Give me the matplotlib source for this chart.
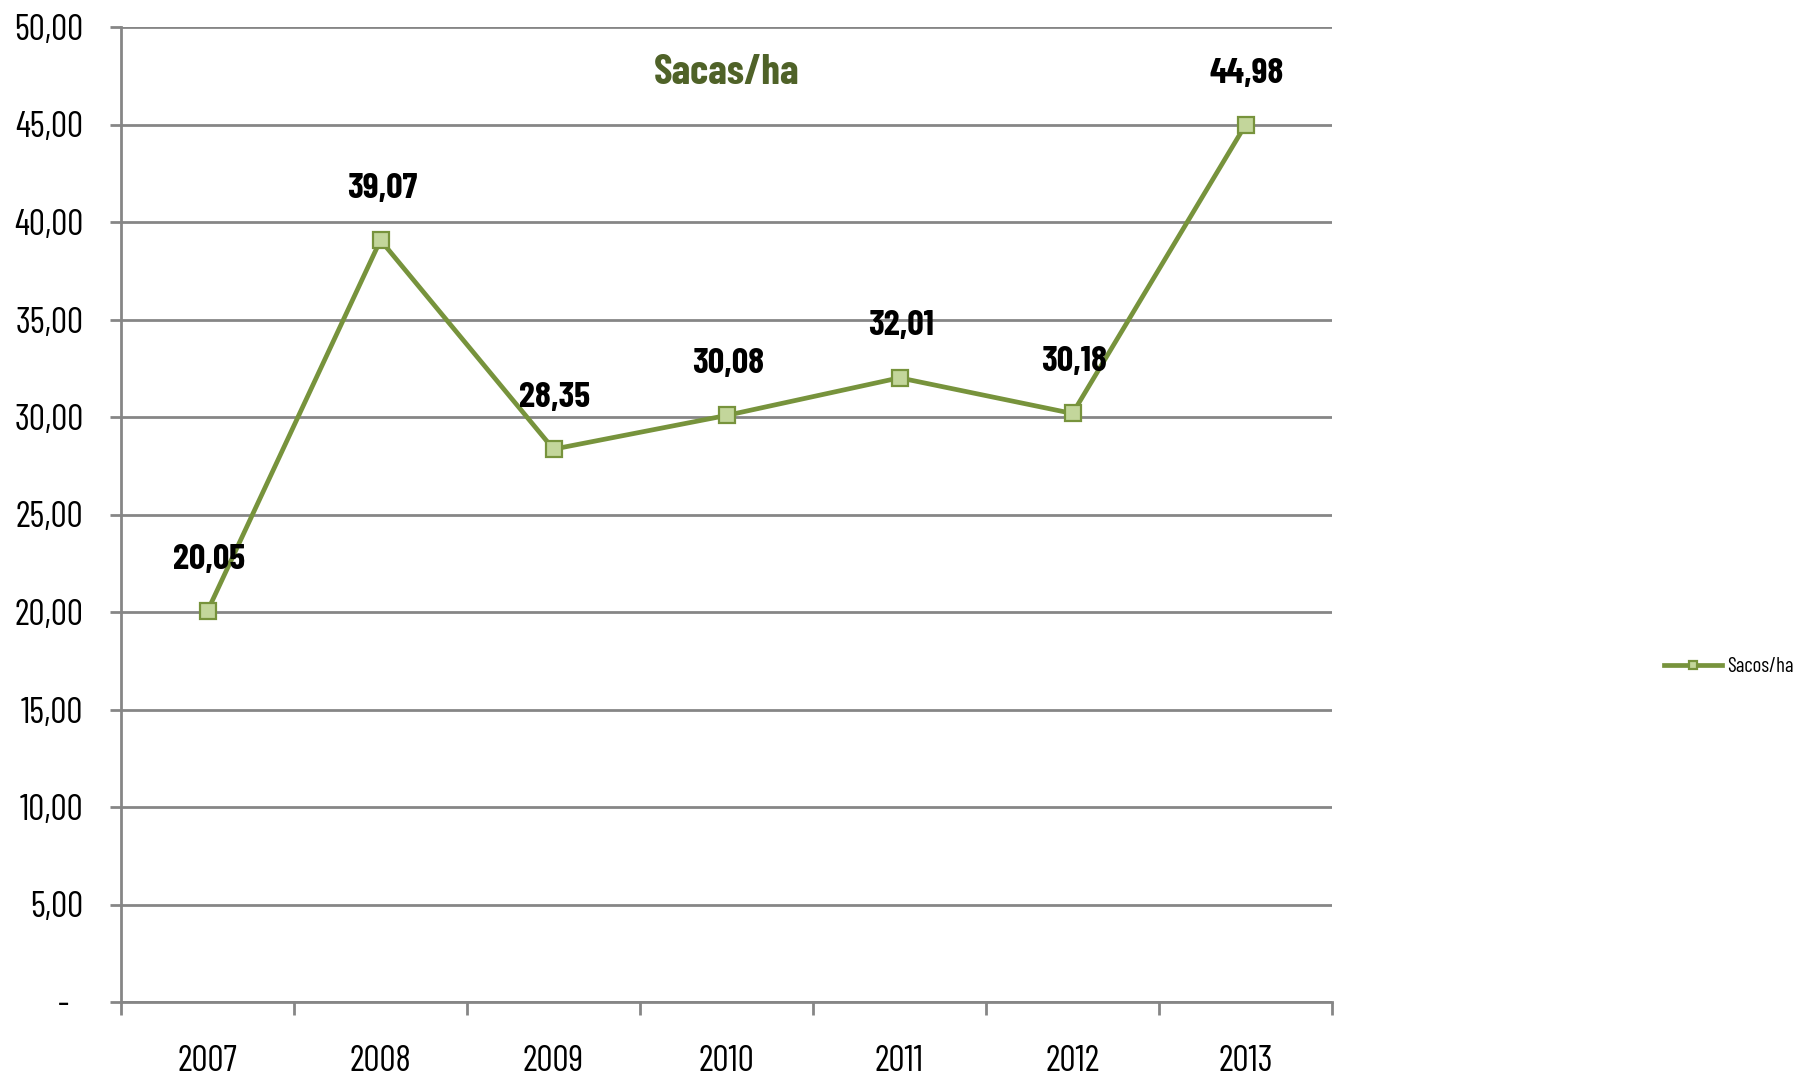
import numpy as np
import matplotlib.pyplot as plt
from matplotlib import font_manager
from matplotlib.ticker import FixedLocator

available = {f.name for f in font_manager.fontManager.ttflist}
family = next((f for f in ['Barlow Condensed', 'Roboto Condensed', 'Sofia Sans Condensed']
               if f in available), 'DejaVu Sans')
plt.rcParams['font.family'] = [family, 'DejaVu Sans']

# data
years = ['2007', '2008', '2009', '2010', '2011', '2012', '2013']
sacas = [20.05, 39.07, 28.35, 30.08, 32.01, 30.18, 44.98]
labels = ['20,05', '39,07', '28,35', '30,08', '32,01', '30,18', '44,98']
y_ticks = [0, 5, 10, 15, 20, 25, 30, 35, 40, 45, 50]
y_tick_labels = ['-  ', '5,00', '10,00', '15,00', '20,00', '25,00',
                 '30,00', '35,00', '40,00', '45,00', '50,00']

line_color = '#77933C'
fill_color = '#C3D69B'
grid_color = '#868686'

fig = plt.figure(figsize=(18.02, 10.79), dpi=100)
ax = fig.add_axes([121 / 1802, 77 / 1079, 1211 / 1802, 975 / 1079])

x = np.arange(len(years))
ax.plot(x, sacas, color=line_color, lw=3.4, marker='s', markersize=11.5,
        markerfacecolor=fill_color, markeredgecolor=line_color, mew=1.6,
        label='Sacos/ha', zorder=3)

for xi, yi, lab in zip(x, sacas, labels):
    ax.annotate(lab, (xi, yi), xytext=(1, 37), textcoords='offset points',
                ha='center', va='center', fontsize=26, fontweight='bold',
                color='black', zorder=4)

ax.set_xlim(-0.5, len(years) - 0.5)
ax.set_ylim(0, 50)

# y axis
ax.set_yticks(y_ticks)
ax.set_yticklabels(y_tick_labels)
ax.tick_params(axis='y', length=8, width=2, color=grid_color, pad=19,
               labelsize=26)
ax.grid(axis='y', color=grid_color, lw=2)
ax.set_axisbelow(True)

# x axis: labels at centers, ticks on category boundaries
ax.set_xticks(x)
ax.set_xticklabels(years)
ax.tick_params(axis='x', which='major', length=0, pad=31, labelsize=26)
ax.xaxis.set_minor_locator(FixedLocator(np.arange(-0.5, len(years), 1)))
ax.tick_params(axis='x', which='minor', length=9, width=2, color=grid_color)

for side in ['top', 'right']:
    ax.spines[side].set_visible(False)
for side in ['left', 'bottom']:
    ax.spines[side].set_color(grid_color)
    ax.spines[side].set_linewidth(2)

ax.text(0.5, 0.953, 'Sacas/ha', transform=ax.transAxes, ha='center',
        va='center', fontsize=30, fontweight='bold', color='#4F6228')

fig.legend(loc='center left', bbox_to_anchor=(1664 / 1802, 1 - 667 / 1079),
           frameon=False, borderpad=0, borderaxespad=0, fontsize=15,
           handlelength=2.8, handletextpad=0.25, markerscale=0.5)

fig.savefig('out.png', dpi=100)
